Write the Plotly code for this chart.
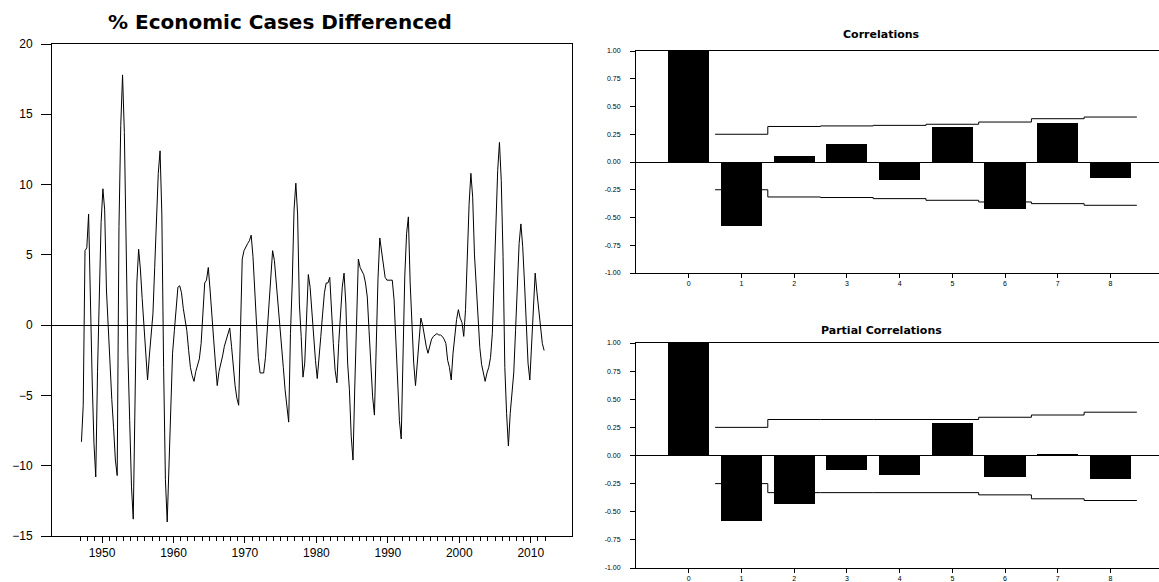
import pandas as pd
import plotly.graph_objects as go

# ---------------- data ----------------
series_start = "1947Q1"
pct_diff = [
    -8.3, -5.7, 5.3, 5.5, 7.9, 1.0, -3.9, -8.4, -10.8, -3.3,
    2.0, 7.3, 9.7, 8.2, 2.5, -0.4, -3.0, -5.3, -7.3, -9.6,
    -10.7, 7.0, 14.2, 17.8, 13.7, 5.8, -2.0, -6.8, -11.5, -13.8,
    -4.0, 3.0, 5.4, 4.0, 1.9, -0.2, -2.0, -3.9, -2.2, -0.9,
    0.8, 4.1, 7.5, 10.8, 12.4, 7.9, -3.0, -11.0, -14.0, -9.8,
    -5.5, -2.0, -0.4, 1.5, 2.7, 2.8, 2.3, 1.2, 0.3, -0.4,
    -1.8, -3.0, -3.6, -4.0, -3.3, -2.8, -2.4, -1.3, 1.0, 3.0,
    3.2, 4.1, 2.5, 0.5, -1.0, -2.7, -4.3, -3.3, -2.8, -2.2,
    -1.5, -1.0, -0.5, -0.2, -1.5, -3.0, -4.3, -5.2, -5.7, -0.5,
    4.7, 5.3, 5.6, 5.8, 6.0, 6.4, 4.9, 2.5, 0.3, -2.3,
    -3.4, -3.4, -3.4, -2.3, -0.4, 2.0, 4.1, 5.3, 4.6, 3.2,
    1.5, 0.0, -1.5, -3.0, -4.6, -6.0, -6.9, -0.6, 3.0, 8.2,
    10.1, 7.9, 1.5, -0.8, -3.7, -2.7, 0.8, 3.6, 2.7, 0.8,
    -0.8, -2.5, -3.8, -2.0, -0.8, 0.8, 2.3, 3.0, 3.0, 3.4,
    0.6, -1.3, -3.2, -4.1, -1.3, 0.5, 2.7, 3.7, 1.5, -2.7,
    -4.6, -7.9, -9.6, -4.4, 1.0, 4.7, 4.1, 3.9, 3.6, 3.0,
    2.0, -0.4, -2.9, -5.1, -6.4, -1.0, 3.3, 6.2, 5.3, 4.1,
    3.4, 3.2, 3.2, 3.2, 3.2, 1.8, -1.1, -3.9, -6.8, -8.1,
    -2.3, 3.5, 6.5, 7.7, 3.0, 0.1, -2.7, -4.3, -2.7, -0.8,
    0.5, 0.0, -0.8, -1.5, -2.0, -1.5, -1.0, -0.8, -0.7, -0.6,
    -0.7, -0.7, -0.8, -1.0, -1.3, -2.5, -3.0, -3.9, -2.0, -0.8,
    0.4, 1.1, 0.5, 0.2, -0.8, 1.1, 4.9, 8.6, 10.8, 9.1,
    5.0, 2.5, 0.3, -1.6, -2.8, -3.5, -4.0, -3.4, -3.0, -2.3,
    -0.6, 3.2, 7.2, 11.0, 13.0, 10.3, 4.9, -3.0, -6.3, -8.6,
    -6.3, -5.1, -3.4, -0.4, 2.7, 5.8, 7.2, 5.6, 3.0, -0.2,
    -2.7, -3.9, -1.0, 1.0, 3.7, 2.3, 1.1, -0.4, -1.3, -1.8,
]

lags = [0, 1, 2, 3, 4, 5, 6, 7, 8]
acf = [1.0, -0.58, 0.054, 0.165, -0.16, 0.315, -0.42, 0.348, -0.14]
pacf = [1.0, -0.578, -0.43, -0.127, -0.17, 0.288, -0.19, 0.015, -0.207]
acf_upper = [0.25, 0.32, 0.325, 0.33, 0.34, 0.36, 0.39, 0.405]
acf_lower = [-0.25, -0.315, -0.32, -0.33, -0.345, -0.36, -0.375, -0.39]
pacf_upper = [0.25, 0.32, 0.32, 0.32, 0.32, 0.34, 0.36, 0.385]
pacf_lower = [-0.25, -0.33, -0.33, -0.33, -0.33, -0.35, -0.385, -0.40]

left_title = "% Economic Cases Differenced"
acf_title = "Correlations"
pacf_title = "Partial Correlations"
y_ticks_left = [-15, -10, -5, 0, 5, 10, 15, 20]
corr_ticks = [-1.0, -0.75, -0.5, -0.25, 0.0, 0.25, 0.5, 0.75, 1.0]

# ---------------- figure ----------------
W, H = 1159, 582
FONT = "Liberation Sans, Arial, sans-serif"
TFONT = "DejaVu Sans, Verdana, sans-serif"

dates = (pd.period_range(series_start, periods=len(pct_diff), freq="Q")
         .to_timestamp() + pd.Timedelta(days=45))
first_year = dates[0].year
last_year = dates[-1].year + 1
major_years = [pd.Timestamp(f"{y}-01-01") for y in range(1950, 2011, 10)]
minor_years = [pd.Timestamp(f"{y}-01-01") for y in range(first_year, last_year + 1)]

fig = go.Figure()

fig.add_trace(go.Scatter(x=dates, y=pct_diff, mode="lines",
                         line=dict(color="black", width=1),
                         xaxis="x", yaxis="y", showlegend=False))


def band_xy(bound):
    xs = [l - 0.5 for l in lags[1:]] + [lags[-1] + 0.5]
    ys = list(bound) + [bound[-1]]
    return xs, ys


for vals, up, lo, xa, ya in [(acf, acf_upper, acf_lower, "x2", "y2"),
                             (pacf, pacf_upper, pacf_lower, "x3", "y3")]:
    fig.add_trace(go.Bar(x=lags, y=vals, width=0.78,
                         marker=dict(color="black", line=dict(width=0)),
                         xaxis=xa, yaxis=ya, showlegend=False))
    for b in (up, lo):
        bx, by = band_xy(b)
        fig.add_trace(go.Scatter(x=bx, y=by, mode="lines", line_shape="hv",
                                 line=dict(color="black", width=1),
                                 xaxis=xa, yaxis=ya, showlegend=False))


def px_x(p):
    return p / W


def px_y(p):
    return 1 - p / H


common_line = dict(showline=True, linecolor="black", linewidth=1,
                   showgrid=False, ticks="outside", tickcolor="black")

corr_y = dict(range=[-1, 1], tickvals=corr_ticks,
              ticktext=[f"{v:.2f}" for v in corr_ticks],
              tickfont=dict(size=7, family=FONT, color="black"),
              ticklen=5, ticklabelstandoff=8,
              zeroline=True, zerolinecolor="black",
              zerolinewidth=1, **common_line)
corr_x = dict(range=[-1, 8.92], tickvals=lags,
              tickfont=dict(size=7, family=FONT, color="black"),
              ticklen=4, mirror=True, zeroline=False, **common_line)

fig.update_layout(
    width=W, height=H,
    margin=dict(l=0, r=0, t=0, b=0, autoexpand=False),
    paper_bgcolor="white", plot_bgcolor="white",
    bargap=0,
    xaxis=dict(domain=[px_x(52), px_x(572)], anchor="y", type="date",
               range=["1943-01-01", "2015-10-10"],
               tickvals=major_years, tickformat="%Y", ticklen=6,
               tickfont=dict(size=12, family=FONT, color="black"),
               mirror=True, zeroline=False,
               minor=dict(tickvals=minor_years, ticklen=4, ticks="outside",
                          tickcolor="black", showgrid=False),
               **common_line),
    yaxis=dict(domain=[px_y(536), px_y(44)], anchor="x",
               range=[-15, 20], tickvals=y_ticks_left, ticklen=10,
               ticklabelstandoff=6,
               tickfont=dict(size=12, family=FONT, color="black"),
               mirror=True, zeroline=True, zerolinecolor="black",
               zerolinewidth=1, **common_line),
    xaxis2=dict(domain=[px_x(636), 1.0], anchor="y2", **corr_x),
    yaxis2=dict(domain=[px_y(273), px_y(51)], anchor="x2", **corr_y),
    xaxis3=dict(domain=[px_x(636), 1.0], anchor="y3", **corr_x),
    yaxis3=dict(domain=[px_y(568), px_y(343)], anchor="x3", **corr_y),
    annotations=[
        dict(text=f"<b>{left_title}</b>", x=px_x(280), y=px_y(22),
             xref="paper", yref="paper", showarrow=False,
             font=dict(size=20, family=TFONT, color="black"),
             xanchor="center", yanchor="middle"),
        dict(text=f"<b>{acf_title}</b>", x=px_x(882), y=px_y(34),
             xref="paper", yref="paper", showarrow=False,
             font=dict(size=11, family=TFONT, color="black"),
             xanchor="center", yanchor="middle"),
        dict(text=f"<b>{pacf_title}</b>", x=px_x(881), y=px_y(330),
             xref="paper", yref="paper", showarrow=False,
             font=dict(size=11, family=TFONT, color="black"),
             xanchor="center", yanchor="middle"),
    ],
)

fig.write_html(
    "out.html",
    config={"displayModeBar": False},
    post_script="document.body.style.margin='0';document.body.style.overflow='hidden';",
)
